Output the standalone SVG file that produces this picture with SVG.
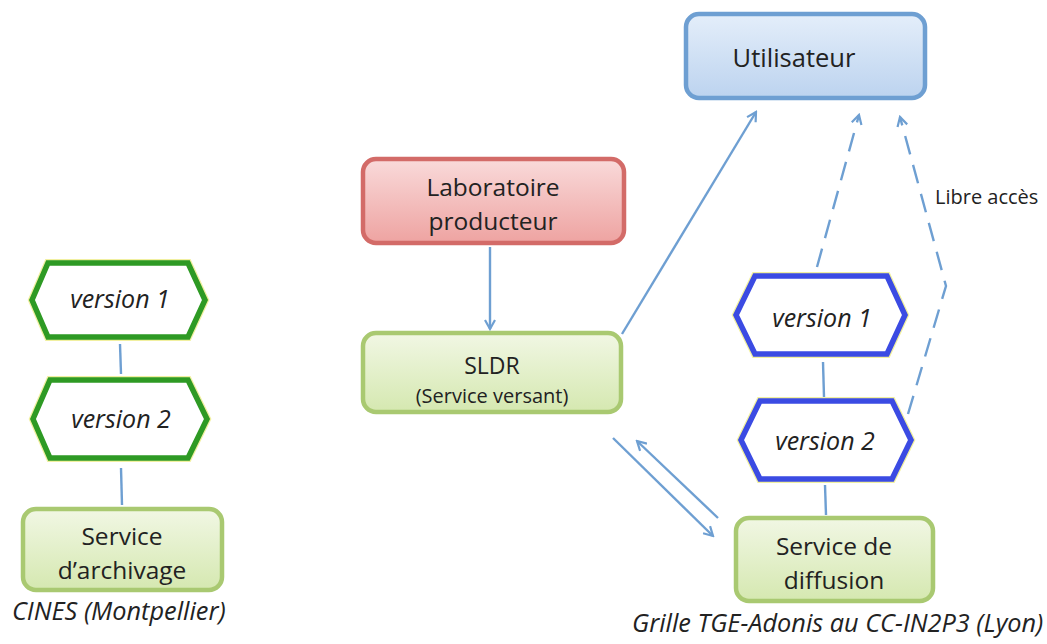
<svg xmlns="http://www.w3.org/2000/svg" width="1047" height="644" viewBox="0 0 1047 644">
  <defs>
    <linearGradient id="gBlue" x1="0" y1="0" x2="0" y2="1">
      <stop offset="0" stop-color="#e4eefa"/>
      <stop offset="1" stop-color="#bcd3ef"/>
    </linearGradient>
    <linearGradient id="gRed" x1="0" y1="0" x2="0" y2="1">
      <stop offset="0" stop-color="#f9dada"/>
      <stop offset="1" stop-color="#eea3a1"/>
    </linearGradient>
    <linearGradient id="gGreen" x1="0" y1="0" x2="0" y2="1">
      <stop offset="0" stop-color="#f1f7e4"/>
      <stop offset="1" stop-color="#d5e8b0"/>
    </linearGradient>
    <marker id="arr" viewBox="0 0 12 12" refX="10" refY="6" markerWidth="12" markerHeight="12" markerUnits="userSpaceOnUse" orient="auto">
      <path d="M1,1 L10,6 L1,11" fill="none" stroke="#6e9fd2" stroke-width="2.2" stroke-linejoin="miter"/>
    </marker>
    <style>
      .box { stroke-width: 4.5; }
      .blue { fill: url(#gBlue); stroke: #6e9fd2; }
      .red { fill: url(#gRed); stroke: #d36b68; }
      .green { fill: url(#gGreen); stroke: #a9c971; }
      .hexg { fill: #ffffff; stroke: #2e9a24; stroke-width: 5.5; stroke-linejoin: miter; }
      .hexb { fill: #ffffff; stroke: #3b4be3; stroke-width: 5.5; stroke-linejoin: miter; }
      .halo { fill: none; stroke: #f1f0a0; stroke-width: 8; stroke-linejoin: miter; }
      .t { font-family: "Open Sans", Lato, "Liberation Sans", sans-serif; fill: #222222; text-anchor: middle; }
      .big { font-size: 25.5px; }
      .mid { font-size: 24.5px; }
      .sldr { font-size: 23px; }
      .small { font-size: 20px; }
      .it { font-style: italic; font-size: 25px; }
      .cap { font-family: "Open Sans", Lato, "Liberation Sans", sans-serif; fill: #222222; font-style: italic; font-size: 25.3px; }
      .line { stroke: #6e9fd2; stroke-width: 2.4; fill: none; }
      .dash { stroke-dasharray: 19 11; }
    </style>
  </defs>

  <g id="connectors">
    <line class="line" x1="490" y1="247" x2="490" y2="329" marker-end="url(#arr)"/>
    <line class="line" x1="622" y1="334" x2="756" y2="112" marker-end="url(#arr)"/>
    <line class="line dash" x1="817" y1="267" x2="859" y2="115" marker-end="url(#arr)"/>
    <polyline class="line dash" points="908,414 946,286 900,117" marker-end="url(#arr)"/>
    <line class="line" x1="718" y1="518" x2="637" y2="441" marker-end="url(#arr)"/>
    <line class="line" x1="613" y1="438" x2="713" y2="536" marker-end="url(#arr)"/>
    <line class="line" x1="823" y1="362" x2="824" y2="397"/>
    <line class="line" x1="825" y1="485" x2="826" y2="515"/>
    <line class="line" x1="120" y1="344" x2="121" y2="374"/>
    <line class="line" x1="121" y1="468" x2="122" y2="505"/>
  </g>

  <g id="utilisateur">
    <rect class="box blue" x="686" y="14" width="239" height="84" rx="13"/>
    <text class="t big" x="794" y="67">Utilisateur</text>
  </g>

  <g id="laboratoire">
    <rect class="box red" x="363" y="159" width="261" height="84" rx="13"/>
    <text class="t mid" x="493" y="196">Laboratoire</text>
    <text class="t mid" x="493" y="230">producteur</text>
  </g>

  <g id="sldr">
    <rect class="box green" x="363" y="333" width="258" height="79" rx="13"/>
    <text class="t sldr" x="492" y="374">SLDR</text>
    <text class="t small" x="492" y="403">(Service versant)</text>
  </g>

  <g id="libre-acces">
    <text class="t" x="935" y="204" style="text-anchor:start;font-size:20px">Libre accès</text>
  </g>

  <g id="cines-v1">
    <polygon class="halo" points="32,300 48,263 188,263 205,300 188,337 48,337"/>
    <polygon class="hexg" points="32,300 48,263 188,263 205,300 188,337 48,337"/>
    <text class="t it" x="120" y="308">version 1</text>
  </g>

  <g id="cines-v2">
    <polygon class="halo" points="33,419 50,380 188,380 207,419 188,458 50,458"/>
    <polygon class="hexg" points="33,419 50,380 188,380 207,419 188,458 50,458"/>
    <text class="t it" x="121" y="428">version 2</text>
  </g>

  <g id="service-archivage">
    <rect class="box green" x="23" y="509" width="199" height="81" rx="13"/>
    <text class="t mid" x="122" y="545">Service</text>
    <text class="t mid" x="122" y="579">d’archivage</text>
  </g>

  <g id="cines-caption">
    <text class="cap" x="12" y="620">CINES (Montpellier)</text>
  </g>

  <g id="adonis-v1">
    <polygon class="halo" points="736,315 755,276 887,276 905,315 887,354 755,354"/>
    <polygon class="hexb" points="736,315 755,276 887,276 905,315 887,354 755,354"/>
    <text class="t it" x="822" y="327">version 1</text>
  </g>

  <g id="adonis-v2">
    <polygon class="halo" points="741,440 760,401 892,401 911,440 892,479 760,479"/>
    <polygon class="hexb" points="741,440 760,401 892,401 911,440 892,479 760,479"/>
    <text class="t it" x="825" y="450">version 2</text>
  </g>

  <g id="service-diffusion">
    <rect class="box green" x="736" y="518" width="197" height="83" rx="13"/>
    <text class="t mid" x="834" y="555">Service de</text>
    <text class="t mid" x="834" y="589">diffusion</text>
  </g>

  <g id="adonis-caption">
    <text class="cap" x="632" y="632">Grille TGE-Adonis au CC-IN2P3 (Lyon)</text>
  </g>
</svg>
